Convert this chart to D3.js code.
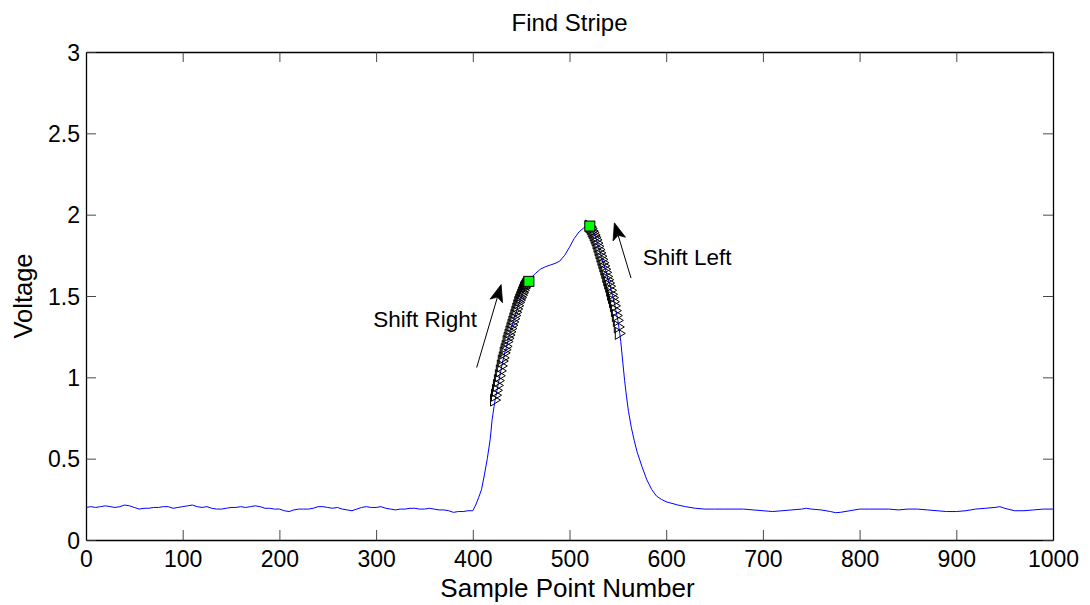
<!DOCTYPE html>
<html>
<head>
<meta charset="utf-8">
<script src="https://cdn.jsdelivr.net/npm/d3@7"></script>
<style>
  html, body { margin: 0; padding: 0; background: #fff; }
  svg { display: block; font-family: "Liberation Sans", Arial, Helvetica, sans-serif; }
</style>
</head>
<body>
<svg id="chart" width="1090" height="605"></svg>
<script>
// ---------------- DATA ----------------
const titleText = "Find Stripe";
const xLabelText = "Sample Point Number";
const yLabelText = "Voltage";
const xTicks = [0, 100, 200, 300, 400, 500, 600, 700, 800, 900, 1000];
const yTicks = [0, 0.5, 1, 1.5, 2, 2.5, 3];
const yTickLabels = ["0", "0.5", "1", "1.5", "2", "2.5", "3"];

// [sample point, voltage]
const baselineLeft = [
  [0,0.20],[5,0.205],[10,0.20],[15,0.205],[20,0.21],[25,0.205],[30,0.20],[35,0.205],[40,0.215],[45,0.21],
  [50,0.20],[55,0.19],[60,0.195],[65,0.195],[70,0.20],[75,0.20],[80,0.205],[85,0.205],[90,0.195],[95,0.20],
  [100,0.205],[105,0.21],[110,0.215],[115,0.205],[120,0.20],[125,0.205],[130,0.195],[135,0.19],[140,0.19],[145,0.195],
  [150,0.20],[155,0.20],[160,0.205],[165,0.20],[170,0.205],[175,0.21],[180,0.205],[185,0.195],[190,0.195],[195,0.19],
  [200,0.19],[205,0.18],[210,0.175],[215,0.185],[220,0.19],[225,0.19],[230,0.19],[235,0.195],[240,0.205],[245,0.205],
  [250,0.20],[255,0.195],[260,0.20],[265,0.19],[270,0.185],[275,0.18],[280,0.19],[285,0.20],[290,0.205],[295,0.20],
  [300,0.20],[305,0.205],[310,0.195],[315,0.19],[320,0.185],[325,0.19],[330,0.19],[335,0.195],[340,0.195],[345,0.19],
  [350,0.19],[355,0.195],[360,0.19],[365,0.185],[370,0.185],[375,0.18],[380,0.17],[385,0.175],[390,0.175],[395,0.18]
];
const riseSegment = [
  [400,0.18],[403,0.215],[406,0.26],[409,0.31],[412,0.40],[415,0.50],[418,0.62],[420,0.74],[421,0.78],[422,0.82]
];
const leftTriangles = [
  [423,0.86],[424,0.89],[425,0.92],[426,0.95],[427,0.98],[428,1.01],[429,1.04],[430,1.07],[431,1.10],[432,1.12],
  [433,1.15],[434,1.17],[435,1.19],[436,1.22],[437,1.24],[438,1.26],[439,1.28],[440,1.30],[441,1.32],[442,1.34],
  [443,1.36],[444,1.38],[445,1.40],[446,1.42],[447,1.44],[448,1.46],[449,1.475],[450,1.49],[451,1.505],[452,1.52],
  [453,1.535],[454,1.55],[455,1.56],[456,1.57],[457,1.58]
];
const leftSquare = [[458,1.59]];
const ridgeSegment = [
  [460,1.61],[465,1.64],[470,1.665],[475,1.68],[480,1.69],[485,1.70],[490,1.715],[495,1.75],[500,1.80],
  [505,1.855],[510,1.895],[515,1.92],[518,1.93],[520,1.93]
];
const rightSquare = [[521,1.93]];
const rightTriangles = [
  [521,1.93],[522,1.925],[523,1.915],[524,1.90],[525,1.89],[526,1.875],[527,1.86],[528,1.845],[529,1.825],[530,1.805],
  [531,1.785],[532,1.765],[533,1.745],[534,1.725],[535,1.705],[536,1.685],[537,1.665],[538,1.645],[539,1.62],[540,1.60],
  [541,1.58],[542,1.56],[543,1.535],[544,1.51],[545,1.49],[546,1.465],[547,1.44],[548,1.41],[549,1.38],[550,1.35],
  [551,1.31],[552,1.27]
];
const fallSegment = [
  [553,1.22],[555,1.10],[557,0.98],[559,0.88],[561,0.79],[564,0.69],[567,0.61],[570,0.54],[575,0.45],[580,0.37],
  [585,0.31],[590,0.27],[595,0.25],[600,0.235],[606,0.225],[612,0.215]
];
const baselineRight = [
  [620,0.205],[630,0.195],[640,0.19],[650,0.19],[660,0.19],[670,0.19],[680,0.19],[690,0.185],[700,0.18],[710,0.175],
  [720,0.18],[730,0.185],[740,0.19],[745,0.195],[750,0.19],[760,0.185],[770,0.175],[775,0.168],[780,0.17],[790,0.18],
  [800,0.19],[810,0.19],[820,0.19],[830,0.19],[840,0.185],[850,0.19],[860,0.19],[870,0.185],[880,0.18],[890,0.175],
  [900,0.175],[910,0.18],[920,0.19],[930,0.195],[940,0.20],[945,0.205],[950,0.195],[960,0.18],[970,0.18],[980,0.185],
  [990,0.19],[1000,0.19]
];

// annotations in data units
const arrows = [
  { x1: 404, y1: 1.06, x2: 429.3, y2: 1.57 },
  { x1: 563.6, y1: 1.61, x2: 546.4, y2: 1.95 }
];
const notes = [
  { text: "Shift Right", x: 297, y: 1.307 },
  { text: "Shift Left", x: 575.7, y: 1.69 }
];

// ---------------- CHART ----------------
const svg = d3.select("#chart");
const plot = { left: 86, right: 1053, top: 52, bottom: 540 };

const x = d3.scaleLinear().domain([0, 1000]).range([plot.left, plot.right]);
const y = d3.scaleLinear().domain([0, 3]).range([plot.bottom, plot.top]);

const lineData = [].concat(baselineLeft, riseSegment, leftTriangles, leftSquare,
                           ridgeSegment, rightTriangles.slice(1), fallSegment, baselineRight)
                   .sort((a, b) => a[0] - b[0]);

// axes (ticks inward, mirrored on top/right)
function styleAxis(g) {
  g.select(".domain").attr("stroke", "#000").attr("stroke-width", 1.3);
  g.selectAll(".tick line").attr("stroke", "#333").attr("stroke-width", 0.9);
  g.selectAll(".tick text").attr("fill", "#000").attr("font-size", "23px")
    .attr("font-family", "'Liberation Sans', Arial, sans-serif");
}

svg.append("g").attr("transform", `translate(0,${plot.bottom})`)
  .call(d3.axisBottom(x).tickValues(xTicks).tickSizeInner(-10).tickSizeOuter(0).tickPadding(11).tickFormat(d3.format("d")))
  .call(styleAxis);
svg.append("g").attr("transform", `translate(0,${plot.top})`)
  .call(d3.axisTop(x).tickValues(xTicks).tickSizeInner(-10).tickSizeOuter(0).tickFormat(""))
  .call(styleAxis);
svg.append("g").attr("transform", `translate(${plot.left},0)`)
  .call(d3.axisLeft(y).tickValues(yTicks).tickSizeInner(-10).tickSizeOuter(0).tickPadding(6)
        .tickFormat((d, i) => yTickLabels[i]))
  .call(styleAxis)
  .call(g => g.selectAll(".tick text").attr("dy", "0.36em"));
svg.append("g").attr("transform", `translate(${plot.right},0)`)
  .call(d3.axisRight(y).tickValues(yTicks).tickSizeInner(-10).tickSizeOuter(0).tickFormat(""))
  .call(styleAxis);

// the curve
const line = d3.line().x(d => x(d[0])).y(d => y(d[1]));
svg.append("path").datum(lineData)
  .attr("fill", "none").attr("stroke", "#0000ff").attr("stroke-width", 1)
  .attr("d", line);

// right-pointing triangle markers
const tri = "M-4.5,-6L5.5,0L-4.5,6Z";
svg.append("g").selectAll("path.tri")
  .data(leftTriangles.concat(rightTriangles))
  .join("path").attr("class", "tri")
  .attr("d", tri)
  .attr("transform", d => `translate(${x(d[0])},${y(d[1])})`)
  .attr("fill", "none").attr("stroke", "#000").attr("stroke-width", 1);

// green squares
svg.append("g").selectAll("rect.sq")
  .data(leftSquare.concat(rightSquare))
  .join("rect").attr("class", "sq")
  .attr("x", d => x(d[0]) - 5).attr("y", d => y(d[1]) - 5)
  .attr("width", 10).attr("height", 10)
  .attr("fill", "#00ff00").attr("stroke", "#000").attr("stroke-width", 1);

// arrows
arrows.forEach(a => {
  const x1 = x(a.x1), y1 = y(a.y1), x2 = x(a.x2), y2 = y(a.y2);
  const ang = Math.atan2(y2 - y1, x2 - x1);
  const L = 17, W = 6.5, notch = 4;
  const ux = Math.cos(ang), uy = Math.sin(ang);
  const px = -uy, py = ux;
  const bx = x2 - ux * L, by = y2 - uy * L;
  const nx = x2 - ux * (L - notch), ny = y2 - uy * (L - notch);
  svg.append("line")
    .attr("x1", x1).attr("y1", y1).attr("x2", nx).attr("y2", ny)
    .attr("stroke", "#000").attr("stroke-width", 1);
  svg.append("path")
    .attr("d", `M${x2},${y2}L${bx + px * W},${by + py * W}L${nx},${ny}L${bx - px * W},${by - py * W}Z`)
    .attr("fill", "#000").attr("stroke", "#000").attr("stroke-width", 0.8);
});

// annotation text
svg.append("g").selectAll("text")
  .data(notes).join("text")
  .attr("x", d => x(d.x)).attr("y", d => y(d.y))
  .attr("font-size", "22.5px").attr("fill", "#000")
  .text(d => d.text);

// title & labels
svg.append("text")
  .attr("x", (plot.left + plot.right) / 2).attr("y", 31)
  .attr("text-anchor", "middle").attr("font-size", "24px").attr("fill", "#000")
  .text(titleText);
svg.append("text")
  .attr("x", (plot.left + plot.right) / 2 - 2).attr("y", 597)
  .attr("text-anchor", "middle").attr("font-size", "26px").attr("fill", "#000")
  .text(xLabelText);
svg.append("text")
  .attr("transform", `translate(32,${(plot.top + plot.bottom) / 2}) rotate(-90)`)
  .attr("text-anchor", "middle").attr("font-size", "25.5px").attr("fill", "#000")
  .text(yLabelText);
</script>
</body>
</html>
